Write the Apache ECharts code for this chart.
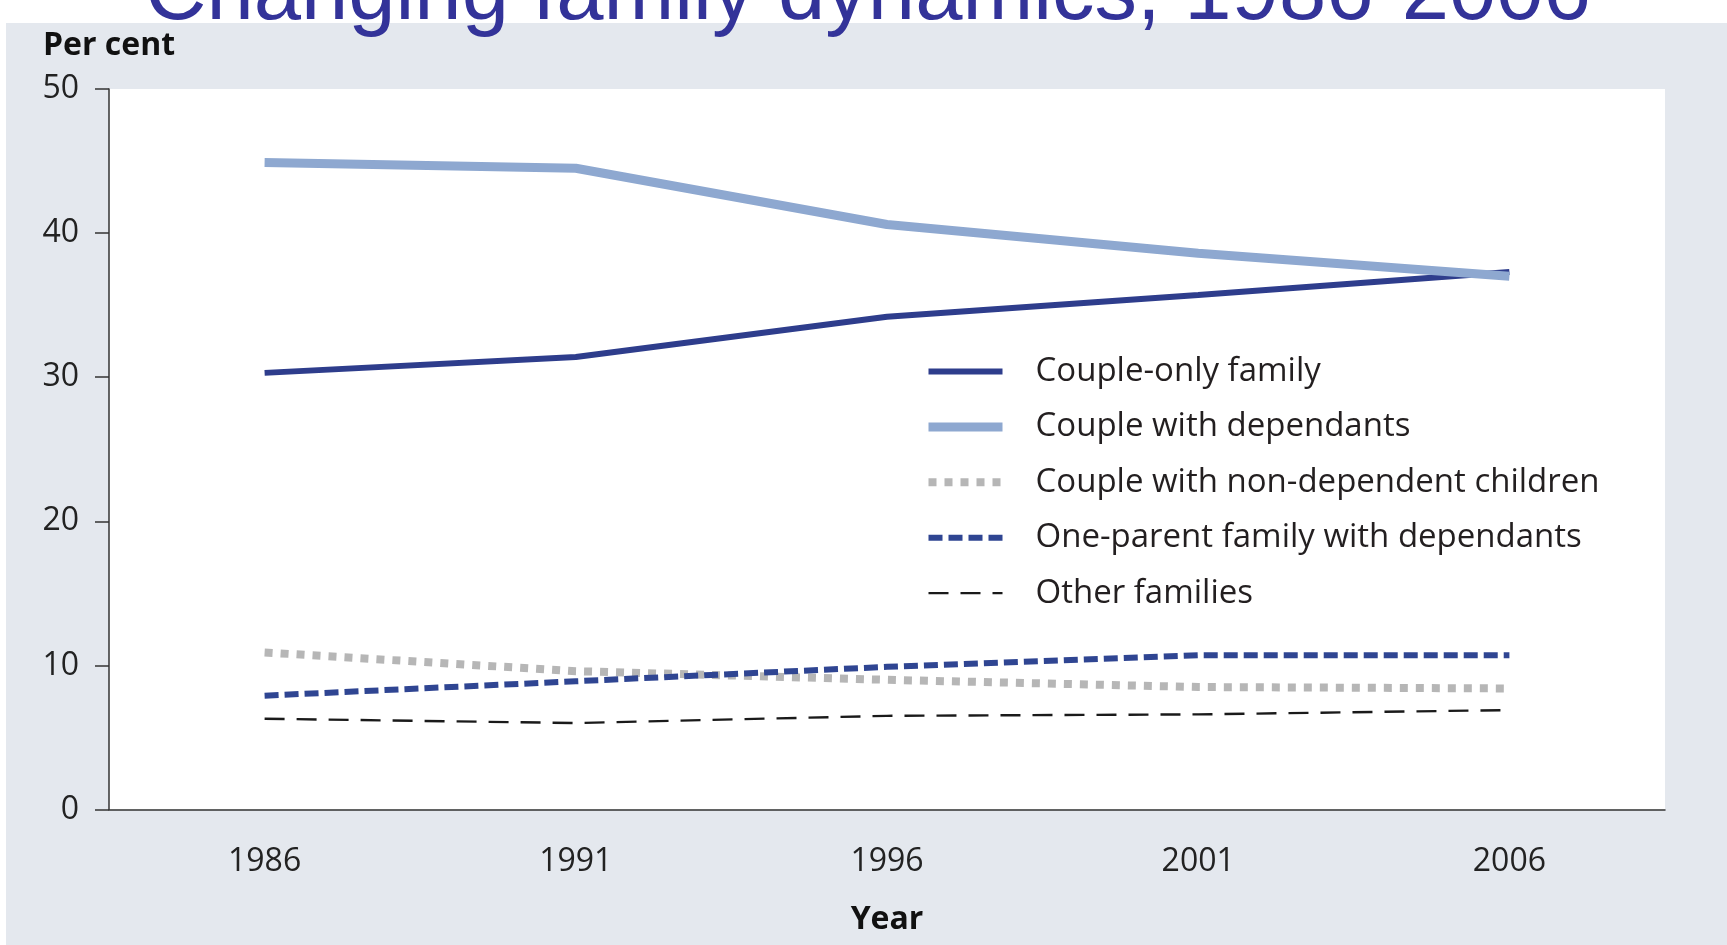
<!DOCTYPE html>
<html>
<head>
<meta charset="utf-8">
<script src="https://cdn.jsdelivr.net/npm/echarts@6/dist/echarts.min.js"></script>
<style>
html,body{margin:0;padding:0;background:#ffffff;}
#chart{width:1727px;height:945px;}
</style>
</head>
<body>
<div id="chart"></div>
<script>
const titleText = 'Changing family dynamics, 1986-2006';
const years = ['1986', '1991', '1996', '2001', '2006'];
const yTicks = [0, 10, 20, 30, 40, 50];
const seriesNames = ['Couple-only family', 'Couple with dependants', 'Couple with non-dependent children', 'One-parent family with dependants', 'Other families'];
const coupleOnly = [30.3, 31.4, 34.2, 35.7, 37.3];
const coupleDependants = [44.9, 44.5, 40.6, 38.6, 37.0];
const coupleNonDependent = [10.9, 9.6, 9.0, 8.5, 8.4];
const oneParent = [7.9, 8.9, 9.9, 10.7, 10.7];
const otherFamilies = [6.3, 6.0, 6.5, 6.6, 6.9];

const values = [coupleOnly, coupleDependants, coupleNonDependent, oneParent, otherFamilies];
const styles = [
  {color: '#2e3d8c', width: 6, type: 'solid'},
  {color: '#8ea8d0', width: 9, type: 'solid'},
  {color: '#b6b6b6', width: 8, type: [8, 8]},
  {color: '#2f4592', width: 6, type: [14, 6]},
  {color: '#1a1a1a', width: 2.4, type: [20, 12]}
];
const FONT = '"Open Sans", "Noto Sans", sans-serif';

const chart = echarts.init(document.getElementById('chart'), null, {renderer: 'canvas'});
chart.setOption({
  backgroundColor: '#ffffff',
  animation: false,
  graphic: [
    {type: 'rect', left: 6, top: 23, shape: {width: 1727, height: 945}, style: {fill: '#e4e8ee'}, z: -10, silent: true},
    {type: 'text', x: 145, y: -4, z: 100, style: {text: titleText, font: '85px "Liberation Sans", Arial, sans-serif', fill: '#333399', verticalAlign: 'middle', align: 'left'}}
  ],
  grid: {left: 109, top: 89, right: 62, bottom: 135.5, show: true, backgroundColor: '#ffffff', borderWidth: 0, containLabel: false},
  legend: {
    orient: 'vertical', left: 919, top: 350, itemWidth: 74, itemHeight: 30, itemGap: 22.4,
    selectedMode: false,
    textStyle: {fontFamily: FONT, fontSize: 33, color: '#231f20', padding: [0, 0, 0, 28]},
    data: seriesNames.map((n, i) => ({name: n, itemStyle: {opacity: 0}, lineStyle: {color: styles[i].color, width: styles[i].width, type: styles[i].type, cap: 'butt'}}))
  },
  xAxis: {
    type: 'category', data: years, boundaryGap: true,
    name: 'Year', nameLocation: 'middle', nameGap: 94,
    nameTextStyle: {fontFamily: FONT, fontSize: 32, fontWeight: 'bold', color: '#111'},
    axisLine: {lineStyle: {color: '#333', width: 1.5}},
    axisTick: {alignWithLabel: true, length: 14, lineStyle: {color: '#333', width: 1.5}},
    axisLabel: {fontFamily: FONT, fontSize: 32, color: '#222', margin: 36}
  },
  yAxis: {
    type: 'value', min: yTicks[0], max: yTicks[yTicks.length - 1], interval: 10,
    name: 'Per cent', nameLocation: 'end', nameGap: 27,
    nameTextStyle: {fontFamily: FONT, fontSize: 32, fontWeight: 'bold', color: '#111'},
    axisLine: {show: true, lineStyle: {color: '#333', width: 1.5}},
    axisTick: {show: true, length: 14, lineStyle: {color: '#333', width: 1.5}},
    splitLine: {show: false},
    axisLabel: {fontFamily: FONT, fontSize: 32, color: '#222', margin: 30}
  },
  series: seriesNames.map((n, i) => ({
    name: n, type: 'line', data: values[i], symbol: 'none', showSymbol: false, smooth: false,
    lineStyle: {color: styles[i].color, width: styles[i].width, type: styles[i].type, cap: 'butt'},
    itemStyle: {color: styles[i].color}
  }))
});
</script>
</body>
</html>
